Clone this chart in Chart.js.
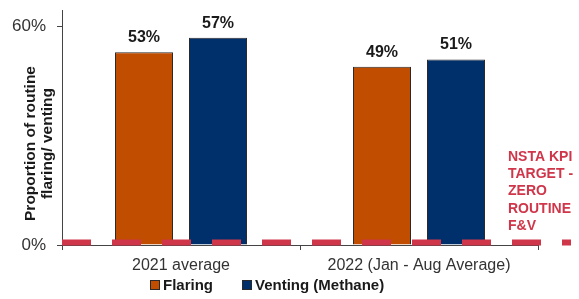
<!DOCTYPE html>
<html>
<head>
<meta charset="utf-8">
<script src="https://cdn.jsdelivr.net/npm/chart.js@4/dist/chart.umd.min.js"></script>
<style>
html,body{margin:0;padding:0;background:#fff;}
#wrap{width:579px;height:299px;position:relative;}
</style>
</head>
<body>
<div id="wrap"><canvas id="c" width="579" height="299"></canvas></div>
<script>
const categories = ["2021 average", "2022 (Jan - Aug Average)"];
const flaring = [53, 49];
const venting = [57, 51];
const yTicks = [0, 60];
const targetValue = 0;
const targetLabel = ["NSTA KPI", "TARGET -", "ZERO", "ROUTINE", "F&V"];
const yTitle = ["Proportion of routine", "flaring/ venting"];

const FONT = "'Liberation Sans', Arial, sans-serif";
const RED = '#d0364a';

const overlay = {
  id: 'overlay',
  afterDatasetsDraw(chart) {
    const ctx = chart.ctx;
    const ca = chart.chartArea;
    const y = chart.scales.y;
    // value labels
    ctx.save();
    ctx.font = 'bold 16px ' + FONT;
    ctx.fillStyle = '#1a1a1a';
    ctx.textAlign = 'center';
    ctx.textBaseline = 'alphabetic';
    chart.data.datasets.forEach((ds, di) => {
      chart.getDatasetMeta(di).data.forEach((bar, i) => {
        ctx.fillText(ds.data[i] + '%', bar.x, bar.y - 10);
      });
    });
    ctx.restore();
    // target dashed line
    ctx.save();
    const ty = y.getPixelForValue(targetValue) - 2.5;
    ctx.strokeStyle = RED;
    ctx.lineWidth = 6;
    ctx.setLineDash([29, 21]);
    ctx.beginPath();
    ctx.moveTo(ca.left, ty);
    ctx.lineTo(ca.right + 33, ty);
    ctx.stroke();
    ctx.restore();
    // target text
    ctx.save();
    ctx.font = 'bold 14px ' + FONT;
    ctx.fillStyle = RED;
    ctx.textAlign = 'left';
    ctx.textBaseline = 'middle';
    targetLabel.forEach((t, i) => {
      ctx.fillText(t, ca.right - 30, ca.bottom - 88 + i * 17.3);
    });
    ctx.restore();
    // y title
    ctx.save();
    ctx.font = 'bold 15.5px ' + FONT;
    ctx.fillStyle = '#1a1a1a';
    ctx.textAlign = 'center';
    ctx.textBaseline = 'middle';
    ctx.translate(ca.left - 31, ca.bottom - 101.5);
    ctx.rotate(-Math.PI / 2);
    yTitle.forEach((t, i) => {
      ctx.fillText(t, 0, i * 17);
    });
    ctx.restore();
    // legend
    ctx.save();
    ctx.font = 'bold 15px ' + FONT;
    ctx.textAlign = 'left';
    ctx.textBaseline = 'middle';
    const ly = ca.bottom + 40;
    const lx = [ca.left + 88, ca.left + 180];
    chart.data.datasets.forEach((ds, di) => {
      ctx.fillStyle = ds.backgroundColor;
      ctx.fillRect(lx[di], ly - 5, 10, 10);
      ctx.strokeStyle = ds.borderColor;
      ctx.lineWidth = 1;
      ctx.strokeRect(lx[di] + 0.5, ly - 4.5, 9, 9);
      ctx.fillStyle = '#1a1a1a';
      ctx.fillText(ds.label, lx[di] + 13, ly + 1);
    });
    ctx.restore();
  }
};

new Chart(document.getElementById('c'), {
  type: 'bar',
  data: {
    labels: categories,
    datasets: [
      { label: 'Flaring', data: flaring, backgroundColor: '#c04d00', borderColor: '#2a2a2a', borderWidth: 1,
        categoryPercentage: 0.622, barPercentage: 0.784 },
      { label: 'Venting (Methane)', data: venting, backgroundColor: '#00306b', borderColor: '#2a2a2a', borderWidth: 1,
        categoryPercentage: 0.622, barPercentage: 0.784 }
    ]
  },
  options: {
    responsive: false,
    animation: false,
    devicePixelRatio: 1,
    layout: { padding: { left: 0, right: 41, top: 10, bottom: 19 } },
    plugins: {
      legend: { display: false },
      tooltip: { enabled: false }
    },
    scales: {
      x: {
        grid: { drawOnChartArea: false, drawTicks: true, tickLength: 5, color: '#444' },
        border: { color: '#444', width: 1 },
        ticks: { font: { family: FONT, size: 16 }, color: '#333', padding: 6, maxRotation: 0 },
        afterFit(s) { s.height = 35; s.paddingLeft = 0; s.paddingRight = 0; }
      },
      y: {
        min: 0, max: 64.6,
        grid: { drawOnChartArea: false, drawTicks: true, tickLength: 5, color: '#444' },
        border: { color: '#444', width: 1 },
        afterBuildTicks(s) { s.ticks = yTicks.map(v => ({ value: v })); },
        ticks: { font: { family: FONT, size: 17 }, color: '#333', padding: 11,
          callback: v => v + '%' },
        afterFit(s) { s.width = 62; s.paddingTop = 0; s.paddingBottom = 0; }
      }
    }
  },
  plugins: [overlay]
});
</script>
</body>
</html>
